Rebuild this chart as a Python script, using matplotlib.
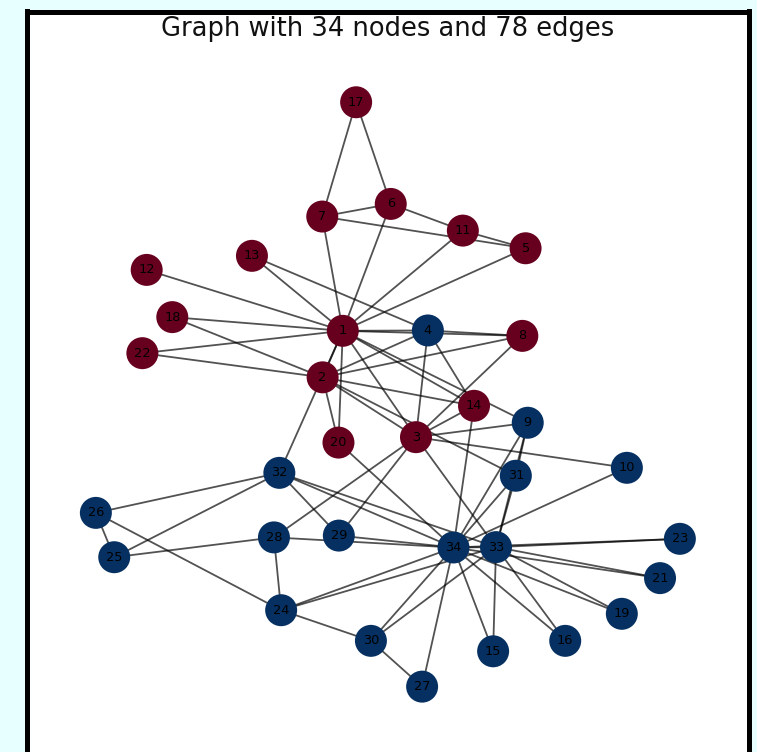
import matplotlib
matplotlib.use("Agg")
import matplotlib.pyplot as plt
from matplotlib.collections import LineCollection

# Node ids (Zachary karate club) and their drawn layout coordinates
nodes = list(range(1, 35))
pos_x = [-0.124, -0.180, 0.079, 0.112, 0.383, 0.009, -0.181, 0.374, 0.389, 0.664,
         0.209, -0.668, -0.376, 0.240, 0.293, 0.493, -0.087, -0.597, 0.650, -0.136,
         0.756, -0.680, 0.811, -0.295, -0.758, -0.809, 0.096, -0.315, -0.135, -0.046,
         0.356, -0.300, 0.301, 0.183]
pos_y = [0.117, -0.012, -0.178, 0.118, 0.346, 0.469, 0.434, 0.103, -0.138, -0.263,
         0.395, 0.286, 0.325, -0.091, -0.772, -0.743, 0.751, 0.155, -0.668, -0.193,
         -0.569, 0.055, -0.460, -0.658, -0.511, -0.388, -0.870, -0.456, -0.451, -0.743,
         -0.285, -0.277, -0.483, -0.484]

# Community membership: 0 = first group, 1 = second group
group = [0, 0, 0, 1, 0, 0, 0, 0, 1, 1,
         0, 0, 0, 0, 1, 1, 0, 0, 1, 0,
         1, 0, 1, 1, 1, 1, 1, 1, 1, 1,
         1, 1, 1, 1]

edges = [
    (1, 2), (1, 3), (1, 4), (1, 5), (1, 6), (1, 7), (1, 8), (1, 9), (1, 11), (1, 12),
    (1, 13), (1, 14), (1, 18), (1, 20), (1, 22), (1, 32),
    (2, 3), (2, 4), (2, 8), (2, 14), (2, 18), (2, 20), (2, 22), (2, 31),
    (3, 4), (3, 8), (3, 9), (3, 10), (3, 14), (3, 28), (3, 29), (3, 33),
    (4, 8), (4, 13), (4, 14),
    (5, 7), (5, 11),
    (6, 7), (6, 11), (6, 17),
    (7, 17),
    (9, 31), (9, 33), (9, 34),
    (10, 34), (14, 34),
    (15, 33), (15, 34), (16, 33), (16, 34), (19, 33), (19, 34), (20, 34),
    (21, 33), (21, 34), (23, 33), (23, 34),
    (24, 26), (24, 28), (24, 30), (24, 33), (24, 34),
    (25, 26), (25, 28), (25, 32),
    (26, 32),
    (27, 30), (27, 34),
    (28, 34),
    (29, 32), (29, 34),
    (30, 33), (30, 34),
    (31, 33), (31, 34),
    (32, 33), (32, 34),
    (33, 34),
]

group_colors = ["#67001f", "#053061"]

W, H, DPI = 757, 752, 100
fig = plt.figure(figsize=(W / DPI, H / DPI), dpi=DPI, facecolor="#e8ffff")

left_px, right_px, top_px, bottom_px = 26.5, 748.5, 11.5, 762.0
ax = fig.add_axes([left_px / W, 1 - bottom_px / H,
                   (right_px - left_px) / W, (bottom_px - top_px) / H])
ax.set_facecolor("white")
# map layout units to the axes box (same scale on both axes)
scale = 360.5
x_center, y_zero = 387.5, 373.0
ax.set_xlim((left_px - x_center) / scale, (right_px - x_center) / scale)
ax.set_ylim((y_zero - bottom_px) / scale, (y_zero - top_px) / scale)
ax.set_xticks([])
ax.set_yticks([])
for sp in ax.spines.values():
    sp.set_linewidth(3.6)
    sp.set_color("black")

idx = {n: i for i, n in enumerate(nodes)}
segs = [[(pos_x[idx[u]], pos_y[idx[u]]), (pos_x[idx[v]], pos_y[idx[v]])] for u, v in edges]
ax.add_collection(LineCollection(segs, colors="black", linewidths=1.3, alpha=0.68, zorder=1))

ax.scatter(pos_x, pos_y, s=530, c=[group_colors[g] for g in group],
           linewidths=0, zorder=2)

for n, x, y in zip(nodes, pos_x, pos_y):
    ax.text(x, y, str(n), ha="center", va="center", fontsize=9.3,
            color="black", zorder=3)

fig.text(387.5 / W, 1 - 36 / H,
         "Graph with 34 nodes and 78 edges", ha="center", va="baseline",
         fontsize=18.5, color="#111111")

fig.savefig("out.png", dpi=DPI, facecolor=fig.get_facecolor())
